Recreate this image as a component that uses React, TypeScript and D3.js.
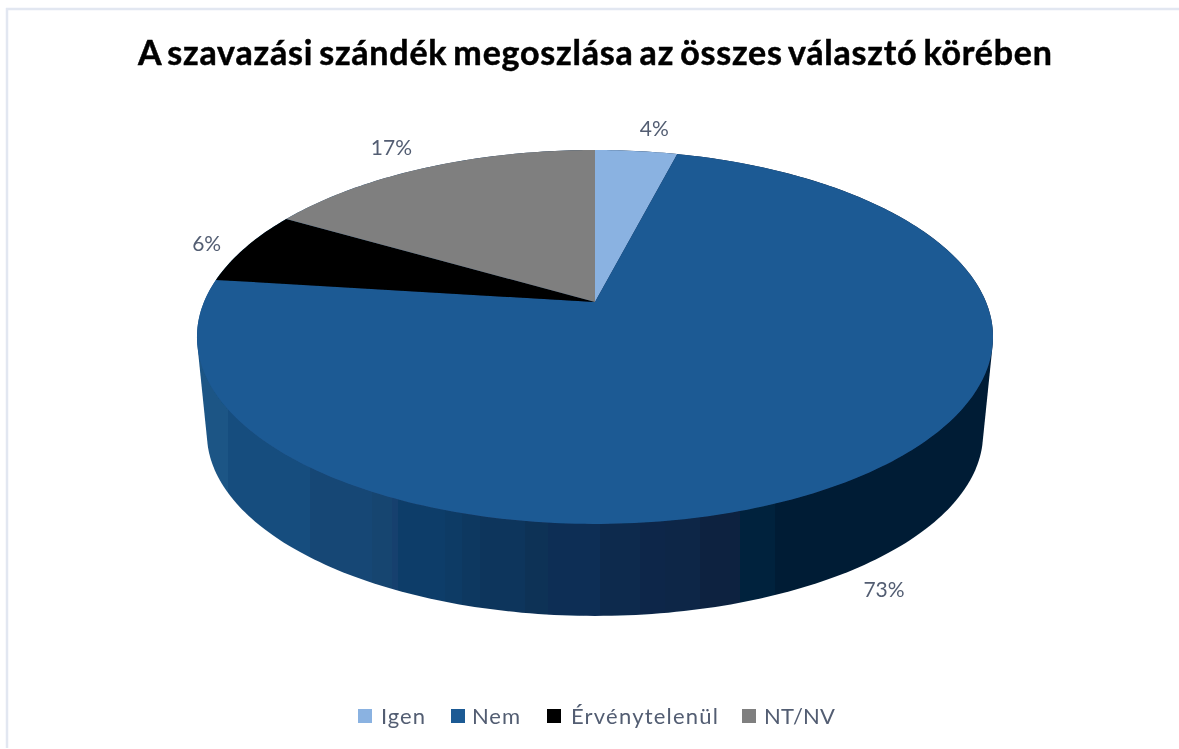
import React from "react";
import * as d3 from "d3";

const categories = ["Igen", "Nem", "Érvénytelenül", "NT/NV"];
const values = [4, 73, 6.4, 16.6];
const colors = ["#8ab2e1", "#1f5a94", "#000000", "#7f7f7f"];
const titleText = "A szavazási szándék megoszlása az összes választó körében";

// label offset from the rim point at each slice's middle angle
const labelOffsets: [number, number][] = [[18, -22], [29, 111], [-39, -3], [-36, -19]];
// legend layout: swatch x, text x, text width
const legendLayout = [[358, 381, 44], [451, 472, 48], [547, 571, 147], [742, 764, 71]];

// side wall shading: [end x, colour]
const sideBands: [number, string][] = [
  [228, "#1a5485"], [310, "#184d7e"], [372, "#164675"], [392, "#184470"], [398, "#13406e"],
  [445, "#113d69"], [462, "#103a65"], [480, "#113760"], [525, "#11355b"], [548, "#0f3057"],
  [600, "#092d55"], [640, "#0a2b4e"], [665, "#0b284a"], [700, "#092647"], [740, "#0b2341"],
  [775, "#03233d"], [1000, "#001b35"],
];

const CX = 595;
const APEX_Y = 302;
const K = 0.187;
const A = 123.93;
const C = 391;
const DEPTH_Y = 92;
const FLOOR_SCALE = 0.975;

// perspective projection of the unit disc onto the screen
function project(theta: number, r = 1): [number, number] {
  const s = r * Math.sin(theta);
  const t = -r * Math.cos(theta);
  const d = 1 - K * t;
  return [CX + (C * s) / d, (APEX_Y + A * t) / d];
}
function projectFloor(theta: number): [number, number] {
  const [x, y] = project(theta);
  const bottomY = project(Math.PI)[1];
  return [CX + (x - CX) * FLOOR_SCALE, bottomY + DEPTH_Y + (y - bottomY) * FLOOR_SCALE];
}

const line = d3.line();
const pie = d3.pie<number>().sort(null).value((d) => d);

export default function App() {
  const arcs = pie(values);
  const total = d3.sum(values);
  const fmt = d3.format(".0%");
  const angles = d3.range(0, 361).map((d) => (d * Math.PI) / 180);
  const hull = d3.polygonHull([...angles.map((a) => project(a)), ...angles.map(projectFloor)])!;
  const xGrad = d3.scaleLinear().domain([197, 993]).range([0, 1]);

  let prev = 197;
  const stops: React.ReactNode[] = [];
  sideBands.forEach(([end, col], i) => {
    stops.push(<stop key={i + "a"} offset={xGrad(prev)} stopColor={col} />);
    stops.push(<stop key={i + "b"} offset={Math.min(1, xGrad(end))} stopColor={col} />);
    prev = end;
  });

  return (
    <svg
      width={1179}
      height={749}
      viewBox="0 0 1179 749"
      style={{ position: "absolute", left: 0, top: 0, display: "block", background: "#fff" }}
    >
      <defs>
        <linearGradient id="side" gradientUnits="userSpaceOnUse" x1={197} x2={993} y1={0} y2={0}>
          {stops}
        </linearGradient>
        <filter id="soft" x="-2%" y="-2%" width="104%" height="104%">
          <feGaussianBlur stdDeviation={0.5} />
        </filter>
      </defs>
      <line x1={7} x2={7} y1={8} y2={748} stroke="#e2e7f1" strokeWidth={2.5} />
      <line x1={6} x2={1179} y1={9} y2={9} stroke="#e2e7f1" strokeWidth={2.5} />
      <g filter="url(#soft)">
        <text
          x={138}
          y={65}
          textLength={914}
          lengthAdjust="spacing"
          fontFamily="Lato, sans-serif"
          fontWeight={700}
          fontSize={34}
          wordSpacing={-3}
          stroke="#000"
          strokeWidth={0.5}
          fill="#000"
        >
          {titleText}
        </text>
        <path d={line(hull) + "Z"} fill="url(#side)" />
        {arcs.map((a, i) => {
          const n = Math.max(2, Math.ceil(((a.endAngle - a.startAngle) * 180) / Math.PI));
          const rim = d3
            .range(n + 1)
            .map((j) => project(a.startAngle + ((a.endAngle - a.startAngle) * j) / n));
          return (
            <path
              key={categories[i]}
              d={line([project(0, 0), ...rim])! + "Z"}
              fill={colors[i]}
            />
          );
        })}
        {arcs.map((a, i) => {
          const [x, y] = project((a.startAngle + a.endAngle) / 2);
          return (
            <text
              key={categories[i]}
              x={x + labelOffsets[i][0]}
              y={y + labelOffsets[i][1] + 7}
              textAnchor="middle"
              fontFamily="Lato, sans-serif"
              fontSize={21}
              fill="#525d72"
            >
              {fmt(values[i] / total)}
            </text>
          );
        })}
        {categories.map((c, i) => (
          <g key={c}>
            <rect x={legendLayout[i][0]} y={709} width={14} height={14} fill={colors[i]} />
            <text
              x={legendLayout[i][1]}
              y={724}
              textLength={legendLayout[i][2]}
              lengthAdjust="spacing"
              fontFamily="Lato, sans-serif"
              fontSize={22}
              fill="#525d72"
            >
              {c}
            </text>
          </g>
        ))}
      </g>
    </svg>
  );
}
